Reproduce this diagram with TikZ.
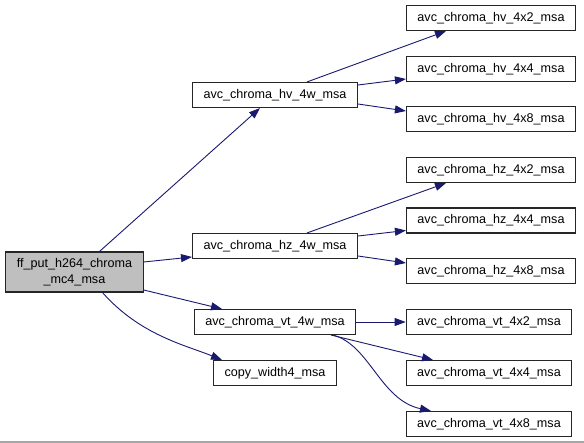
\documentclass[tikz,border=0pt]{standalone}
\usepackage{fontspec}
\setmainfont{Liberation Sans}
\usetikzlibrary{arrows.meta}
\definecolor{edgeblue}{RGB}{25,25,112}
\definecolor{rootgray}{RGB}{191,191,191}

\begin{document}
\begin{tikzpicture}[x=1pt, y=-1pt, >={Triangle[length=11pt,width=8pt]},
    font=\fontsize{12.6}{16}\selectfont,
    fn/.style={draw=black!85, line width=1.1pt, fill=white, minimum height=25pt, inner xsep=11pt, inner ysep=0pt},
    call/.style={->, draw=edgeblue, line width=0.9pt}]
    \useasboundingbox (0,0) rectangle (584,443);
    \fill[white] (0,0) rectangle (584,443);

    % Funzione chiamante
    \node[fn, fill=rootgray, minimum height=40pt, align=center] (root) at (74.5,272) {ff\_put\_h264\_chroma\\\_mc4\_msa};

    % Colonna centrale
    \node[fn] (hvw) at (275,95) {avc\_chroma\_hv\_4w\_msa};
    \node[fn] (hzw) at (275,246) {avc\_chroma\_hz\_4w\_msa};
    \node[fn] (vtw) at (275,322) {avc\_chroma\_vt\_4w\_msa};
    \node[fn] (copyw) at (275,373) {copy\_width4\_msa};

    % Colonna destra
    \node[fn] (hvtwo) at (491,18) {avc\_chroma\_hv\_4x2\_msa};
    \node[fn] (hvfour) at (491,69) {avc\_chroma\_hv\_4x4\_msa};
    \node[fn] (hveight) at (491,119) {avc\_chroma\_hv\_4x8\_msa};
    \node[fn] (hztwo) at (491,170) {avc\_chroma\_hz\_4x2\_msa};
    \node[fn] (hzfour) at (491,220.5) {avc\_chroma\_hz\_4x4\_msa};
    \node[fn] (hzeight) at (491,271) {avc\_chroma\_hz\_4x8\_msa};
    \node[fn] (vttwo) at (489,322) {avc\_chroma\_vt\_4x2\_msa};
    \node[fn] (vtfour) at (489,373) {avc\_chroma\_vt\_4x4\_msa};
    \node[fn] (vteight) at (489,424) {avc\_chroma\_vt\_4x8\_msa};

    % Chiamate dalla radice
    \draw[call] ([xshift=25pt]root.north) -- ([xshift=-15pt]hvw.south);
    \draw[call] ([yshift=10pt]root.east) -- ([yshift=-11pt]hzw.west);
    \draw[call] ([yshift=-18pt]root.east) -- ([xshift=-53pt]vtw.north);
    \draw[call] ([xshift=28pt]root.south) .. controls (140,335) and (185,345) .. ([xshift=-53pt]copyw.north);

    % Chiamate hv
    \draw[call] ([xshift=32pt]hvw.north) -- ([xshift=-45pt]hvtwo.south);
    \draw[call] ([yshift=10pt]hvw.east) -- ([yshift=-10pt]hvfour.west);
    \draw[call] ([yshift=-9pt]hvw.east) -- ([yshift=8pt]hveight.west);

    % Chiamate hz
    \draw[call] ([xshift=32pt]hzw.north) -- ([xshift=-45pt]hztwo.south);
    \draw[call] ([yshift=10pt]hzw.east) -- ([yshift=-10pt]hzfour.west);
    \draw[call] ([yshift=-10pt]hzw.east) -- ([yshift=8pt]hzeight.west);

    % Chiamate vt
    \draw[call] (vtw.east) -- (vttwo.west);
    \draw[call] ([xshift=56pt]vtw.south) -- ([xshift=-56pt]vtfour.north);
    \draw[call] ([xshift=58pt]vtw.south) .. controls (370,345) and (380,400) .. ([xshift=-58pt]vteight.north);

    % Bordo inferiore
    \draw[black!35, line width=1.5pt] (0,442) -- (584,442);
\end{tikzpicture}
\end{document}
